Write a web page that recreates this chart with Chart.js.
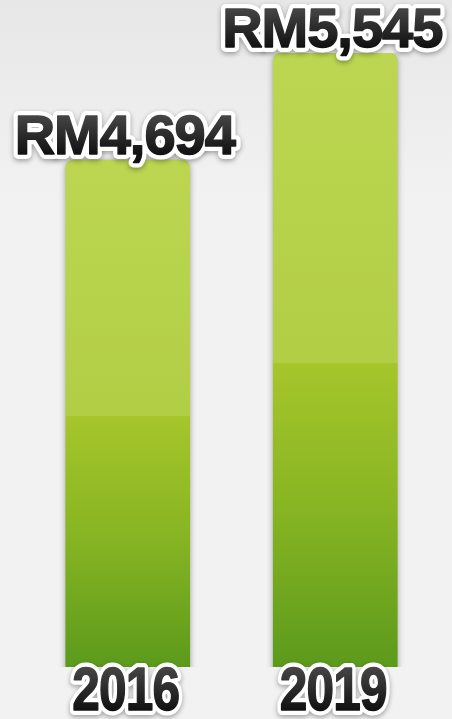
<!DOCTYPE html>
<html>
<head>
<meta charset="utf-8">
<script src="https://cdn.jsdelivr.net/npm/chart.js@4/dist/chart.umd.min.js"></script>
<style>
    html, body { margin: 0; padding: 0; background: #f2f2f2; }
    #wrap { width: 452px; height: 719px; position: relative; }
</style>
</head>
<body>
<div id="wrap"><canvas id="incomeChart"></canvas></div>
<script>
const years = ["2016", "2019"];
const incomeValues = [4694, 5545];
const valueLabels = ["RM4,694", "RM5,545"];

document.addEventListener("DOMContentLoaded", function () {
    const ctx = document.getElementById("incomeChart").getContext("2d");

    // light backdrop with a darker top edge
    const backdrop = {
        id: "backdrop",
        beforeDraw(chart) {
            const c = chart.ctx;
            const g = c.createLinearGradient(0, 0, 0, 200);
            g.addColorStop(0, "#e7e7e7");
            g.addColorStop(1, "#f2f2f2");
            c.save();
            c.fillStyle = g;
            c.fillRect(0, 0, chart.width, chart.height);
            c.restore();
        }
    };

    // soft shadow round the bars
    const barShadow = {
        id: "barShadow",
        beforeDatasetsDraw(chart) {
            chart.ctx.save();
            chart.ctx.shadowColor = "rgba(0,0,0,0.35)";
            chart.ctx.shadowBlur = 6;
            chart.ctx.shadowOffsetX = 0;
            chart.ctx.shadowOffsetY = 1;
        },
        afterDatasetsDraw(chart) {
            chart.ctx.restore();
        }
    };

    function outlinedText(c, text, x, y, size, squeeze) {
        c.save();
        c.translate(x, y);
        c.scale(squeeze, 1);
        c.font = "bold " + size + "px 'Liberation Sans', Arial, sans-serif";
        c.textAlign = "center";
        c.textBaseline = "alphabetic";
        c.letterSpacing = "-1px";
        c.lineJoin = "round";
        c.shadowColor = "rgba(0,0,0,0.35)";
        c.shadowBlur = 5;
        c.shadowOffsetY = 2;
        c.strokeStyle = "#ffffff";
        c.lineWidth = 10;
        c.strokeText(text, 0, 0);
        c.shadowColor = "transparent";
        const g = c.createLinearGradient(0, -size * 0.75, 0, 0);
        g.addColorStop(0, "#4a4a4a");
        g.addColorStop(1, "#111111");
        c.fillStyle = g;
        c.strokeStyle = g;
        c.lineWidth = 1.5;
        c.fillText(text, 0, 0);
        c.strokeText(text, 0, 0);
        c.restore();
    }

    // value labels above bars, years across the bar bottoms
    const labelsPlugin = {
        id: "labelsPlugin",
        afterDraw(chart) {
            const c = chart.ctx;
            const meta = chart.getDatasetMeta(0);
            const xScale = chart.scales.x;
            meta.data.forEach((bar, i) => {
                outlinedText(c, valueLabels[i], bar.x - 3, bar.y - 6, 56, 1);
                outlinedText(c, years[i], xScale.getPixelForTick(i) - 2, 710, 62, 0.8);
            });
        }
    };

    new Chart(ctx, {
        type: "bar",
        data: {
            labels: years,
            datasets: [{
                data: incomeValues,
                barThickness: 124,
                borderRadius: 8,
                borderSkipped: false,
                backgroundColor: function (context) {
                    const chart = context.chart;
                    const area = chart.chartArea;
                    if (!area) return "#a6c62b";
                    const top = chart.scales.y.getPixelForValue(context.raw);
                    const g = chart.ctx.createLinearGradient(0, top, 0, area.bottom);
                    g.addColorStop(0, "#bcd651");
                    g.addColorStop(0.504, "#b2ce45");
                    g.addColorStop(0.505, "#a6c62b");
                    g.addColorStop(0.75, "#86b422");
                    g.addColorStop(1, "#5c9a1c");
                    return g;
                }
            }]
        },
        options: {
            responsive: true,
            maintainAspectRatio: false,
            animation: false,
            layout: { padding: { left: 24, right: 13, top: 53, bottom: 52 } },
            plugins: { legend: { display: false }, tooltip: { enabled: false } },
            scales: {
                x: { display: false },
                y: { display: false, min: 660, max: 5545 }
            }
        },
        plugins: [backdrop, barShadow, labelsPlugin]
    });
});
</script>
</body>
</html>
